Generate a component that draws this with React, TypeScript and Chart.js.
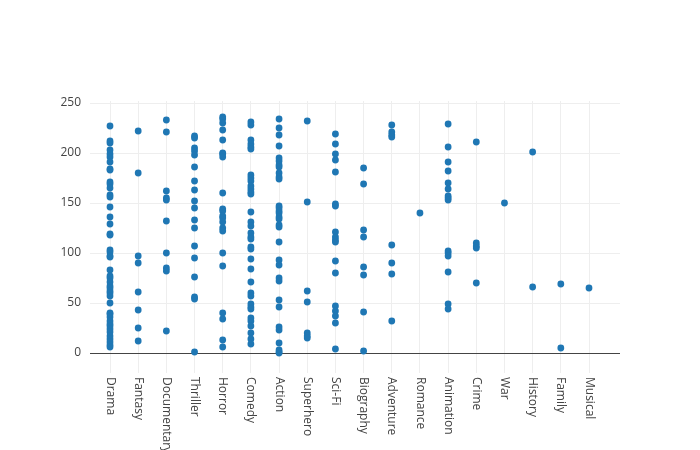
import React, { useEffect, useRef } from "react";
import { Chart, registerables } from "chart.js";

Chart.register(...registerables);

const categories = [
  "Drama", "Fantasy", "Documentary", "Thriller", "Horror", "Comedy", "Action",
  "Superhero", "Sci-Fi", "Biography", "Adventure", "Romance", "Animation",
  "Crime", "War", "History", "Family", "Musical",
];

const drama = [227, 212, 210, 203, 199, 196, 191, 184, 183, 171, 169, 165, 158, 156, 146, 136, 129, 119, 118, 103, 101, 97, 96, 83, 77, 75, 71, 67, 65, 62, 60, 57, 50, 40, 39, 36, 32, 29, 27, 24, 21, 17, 14, 11, 8, 6];
const fantasy = [222, 180, 97, 90, 61, 43, 25, 12];
const documentary = [233, 221, 162, 155, 153, 132, 100, 85, 82, 22];
const thriller = [217, 215, 205, 202, 198, 186, 172, 163, 152, 145, 133, 125, 107, 95, 76, 56, 54, 1];
const horror = [236, 234, 230, 223, 213, 200, 199, 196, 160, 144, 142, 137, 135, 131, 125, 122, 100, 87, 40, 34, 13, 6];
const comedy = [231, 228, 213, 209, 206, 204, 178, 175, 172, 167, 164, 161, 159, 141, 131, 127, 120, 116, 114, 106, 104, 94, 84, 71, 60, 57, 49, 46, 44, 35, 32, 27, 20, 14, 9];
const action = [234, 225, 218, 207, 195, 192, 188, 186, 180, 176, 174, 147, 145, 142, 140, 136, 134, 128, 126, 111, 93, 88, 75, 72, 53, 46, 26, 23, 10, 3, 1, 0];
const superhero = [232, 151, 62, 51, 20, 17, 15];
const scifi = [219, 209, 199, 193, 181, 149, 147, 121, 116, 113, 111, 92, 80, 47, 42, 37, 30, 4];
const biography = [185, 169, 123, 116, 86, 78, 41, 2];
const adventure = [228, 221, 218, 216, 108, 90, 79, 32];
const romance = [140];
const animation = [229, 206, 191, 182, 170, 164, 157, 155, 153, 102, 100, 97, 81, 49, 44];
const crime = [211, 110, 107, 105, 70];
const war = [150];
const history = [201, 66];
const family = [69, 5];
const musical = [65];

const seriesByCategory = [
  drama, fantasy, documentary, thriller, horror, comedy, action, superhero,
  scifi, biography, adventure, romance, animation, crime, war, history, family, musical,
];

const yTicks = [0, 50, 100, 150, 200, 250];

const FONT = '"Open Sans", "DejaVu Sans", sans-serif';

export default function App() {
  const ref = useRef<HTMLCanvasElement | null>(null);

  useEffect(() => {
    document.body.style.margin = "0";
    const points: { x: number; y: number }[] = [];
    seriesByCategory.forEach((vals, i) => {
      vals.forEach((v) => points.push({ x: i, y: v }));
    });

    const labelPlugin = {
      id: "rotLabels",
      afterDraw(chart: any) {
        const { ctx } = chart;
        const xs = chart.scales.x;
        ctx.save();
        ctx.fillStyle = "#444";
        ctx.font = `12px ${FONT}`;
        ctx.textAlign = "left";
        ctx.textBaseline = "middle";
        categories.forEach((c, i) => {
          const px = xs.getPixelForValue(i);
          ctx.save();
          ctx.translate(px, chart.chartArea.bottom + 4);
          ctx.rotate(Math.PI / 2);
          ctx.fillText(c, 0, 0);
          ctx.restore();
        });
        ctx.restore();
      },
    };

    const chart = new Chart(ref.current as HTMLCanvasElement, {
      type: "scatter",
      data: {
        datasets: [
          {
            data: points,
            backgroundColor: "#1f77b4",
            borderColor: "#1f77b4",
            borderWidth: 0,
            pointRadius: 3.4,
            clip: false as any,
          },
        ],
      },
      options: {
        animation: false,
        responsive: false,
        layout: { padding: { top: 101, right: 80, left: 0, bottom: 0 } },
        plugins: { legend: { display: false }, tooltip: { enabled: false } },
        scales: {
          x: {
            type: "linear",
            min: -0.71,
            max: 18.1,
            afterBuildTicks: (s: any) => {
              s.ticks = categories.map((_, i) => ({ value: i }));
            },
            afterFit: (s: any) => {
              s.height = 77;
            },
            ticks: { display: false },
            grid: { color: "#eeeeee", lineWidth: 1, drawTicks: false },
            border: { display: false },
          },
          y: {
            min: -20,
            max: 252,
            afterBuildTicks: (s: any) => {
              s.ticks = yTicks.map((v) => ({ value: v }));
            },
            afterFit: (s: any) => {
              s.width = 90;
            },
            ticks: {
              color: "#444",
              font: { family: FONT, size: 12 },
              padding: 9,
            },
            grid: {
              color: (c: any) => (c.tick && c.tick.value === 0 ? "#444444" : "#eeeeee"),
              lineWidth: 1,
              drawTicks: false,
            },
            border: { display: false },
          },
        },
      },
      plugins: [labelPlugin],
    });
    return () => chart.destroy();
  }, []);

  return (
    <div style={{ position: "absolute", left: 0, top: 0, width: 700, height: 450, background: "#fff" }}>
      <canvas ref={ref} width={700} height={450} style={{ width: 700, height: 450 }} />
    </div>
  );
}
